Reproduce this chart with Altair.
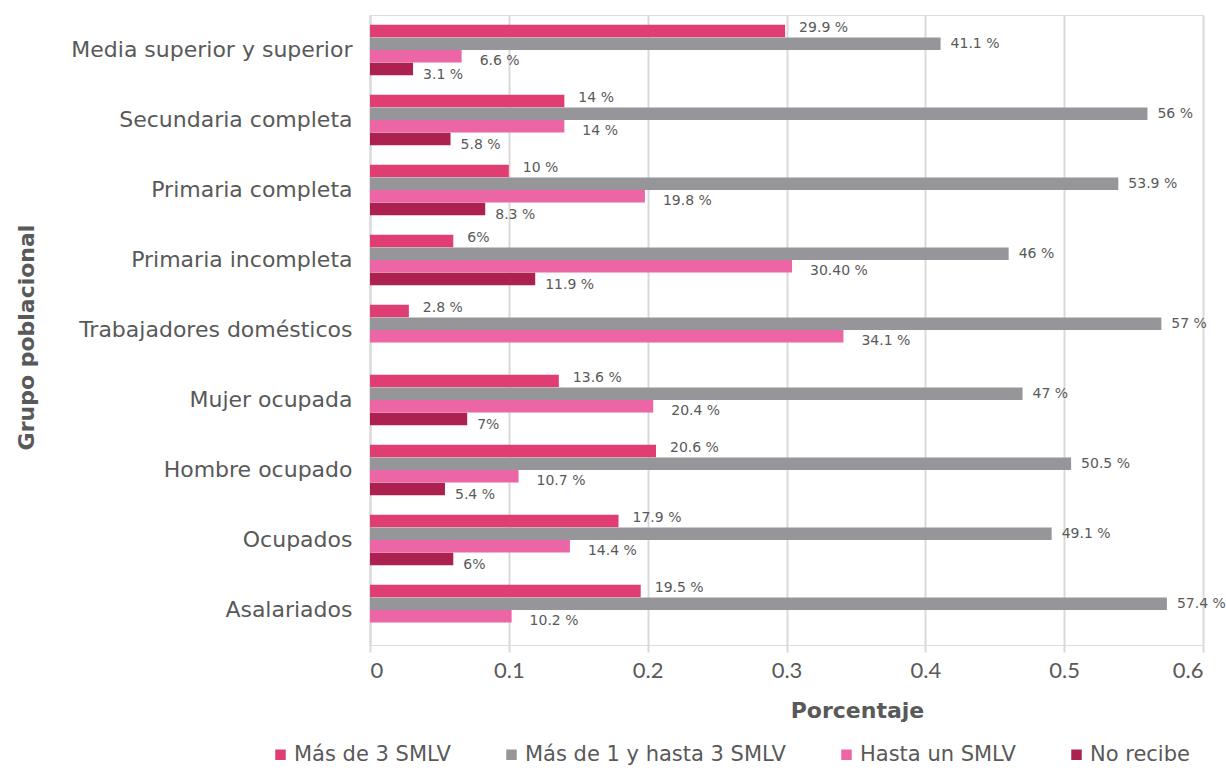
import altair as alt
import pandas as pd

categories = ["Media superior y superior", "Secundaria completa", "Primaria completa",
              "Primaria incompleta", "Trabajadores domésticos", "Mujer ocupada",
              "Hombre ocupado", "Ocupados", "Asalariados"]
series = ["Más de 3 SMLV", "Más de 1 y hasta 3 SMLV", "Hasta un SMLV", "No recibe"]
colors = ["#E03E72", "#96969A", "#EC65A5", "#AD2150"]

mas3 = [0.299, 0.14, 0.10, 0.06, 0.028, 0.136, 0.206, 0.179, 0.195]
mas1 = [0.411, 0.56, 0.539, 0.46, 0.57, 0.47, 0.505, 0.491, 0.574]
hasta = [0.066, 0.14, 0.198, 0.304, 0.341, 0.204, 0.107, 0.144, 0.102]
norec = [0.031, 0.058, 0.083, 0.119, None, 0.07, 0.054, 0.06, None]

lab_mas3 = ["29.9 %", "14 %", "10 %", "6%", "2.8 %", "13.6 %", "20.6 %", "17.9 %", "19.5 %"]
lab_mas1 = ["41.1 %", "56 %", "53.9 %", "46 %", "57 %", "47 %", "50.5 %", "49.1 %", "57.4 %"]
lab_hasta = ["6.6 %", "14 %", "19.8 %", "30.40 %", "34.1 %", "20.4 %", "10.7 %", "14.4 %", "10.2 %"]
lab_norec = ["3.1 %", "5.8 %", "8.3 %", "11.9 %", None, "7%", "5.4 %", "6%", None]

rows = []
for s, vals, labs in zip(series, [mas3, mas1, hasta, norec],
                         [lab_mas3, lab_mas1, lab_hasta, lab_norec]):
    for c, v, l in zip(categories, vals, labs):
        if v is not None:
            rows.append({"grupo": c, "serie": s, "valor": v, "etiqueta": l})
df = pd.DataFrame(rows)

FONT = "DejaVu Sans"
TFONT = "Lato"

y_enc = alt.Y("grupo:N", sort=categories,
              scale=alt.Scale(paddingInner=0.28, paddingOuter=0.14),
              axis=alt.Axis(title="Grupo poblacional", titleFont=FONT, titleFontSize=22,
                            titleFontWeight="bold", titleColor="#595959",
                            titleX=-344, titleY=322, titleAngle=270, titleAlign="center",
                            titleBaseline="middle",
                            labelFont=FONT, labelFontSize=22, labelColor="#595959",
                            labelPadding=18, ticks=False, domainColor="#d9d9d9",
                            domainWidth=2, labelLimit=400))
yoff = alt.YOffset("serie:N", sort=series, scale=alt.Scale(domain=series))

x_enc = alt.X("valor:Q", scale=alt.Scale(domain=[0, 0.6]),
              axis=alt.Axis(title="Porcentaje", values=[0, 0.1, 0.2, 0.3, 0.4, 0.5, 0.6],
                            format="~g", titleFont=FONT, titleFontSize=22,
                            titleFontWeight="bold", titleColor="#595959",
                            titleX=487, titleY=65, titleAlign="center",
                            titleBaseline="middle",
                            labelFont=TFONT, labelFontSize=22, labelColor="#595959",
                            labelPadding=8, tickSize=7, tickColor="#d9d9d9", tickWidth=2,
                            gridColor="#d9d9d9", gridWidth=2, domain=False))

bars = alt.Chart(df).mark_bar(size=12.5).encode(
    x=x_enc, y=y_enc, yOffset=yoff,
    color=alt.Color("serie:N", sort=series,
                    scale=alt.Scale(domain=series, range=colors),
                    legend=alt.Legend(title=None, orient="none", direction="horizontal",
                                      legendX=-100, legendY=729, symbolType="square",
                                      symbolSize=110, symbolStrokeWidth=0,
                                      labelFont=FONT, labelFontSize=21,
                                      labelColor="#595959", columnPadding=50,
                                      labelOffset=3, labelLimit=400, padding=0)),
)

dys = {series[0]: -3, series[1]: 0, series[2]: 5, series[3]: 6}
dxs = {series[0]: 14, series[1]: 10, series[2]: 18, series[3]: 10}
texts = []
for s in series:
    texts.append(
        alt.Chart(df).transform_filter(alt.datum.serie == s)
        .mark_text(align="left", baseline="middle", dx=dxs[s], dy=dys[s],
                   font=FONT, fontSize=14, color="#595959")
        .encode(x="valor:Q", y=alt.Y("grupo:N", sort=categories), yOffset=yoff,
                text="etiqueta:N")
    )

chart = alt.layer(bars, *texts).properties(
    width=833, height=630,
    autosize=alt.AutoSizeParams(type="none"),
    padding={"left": 370, "top": 15, "right": 23, "bottom": 125},
).configure_view(stroke=None).configure(background="white")

chart.save("out.html", embed_options={"renderer": "svg", "actions": False})
